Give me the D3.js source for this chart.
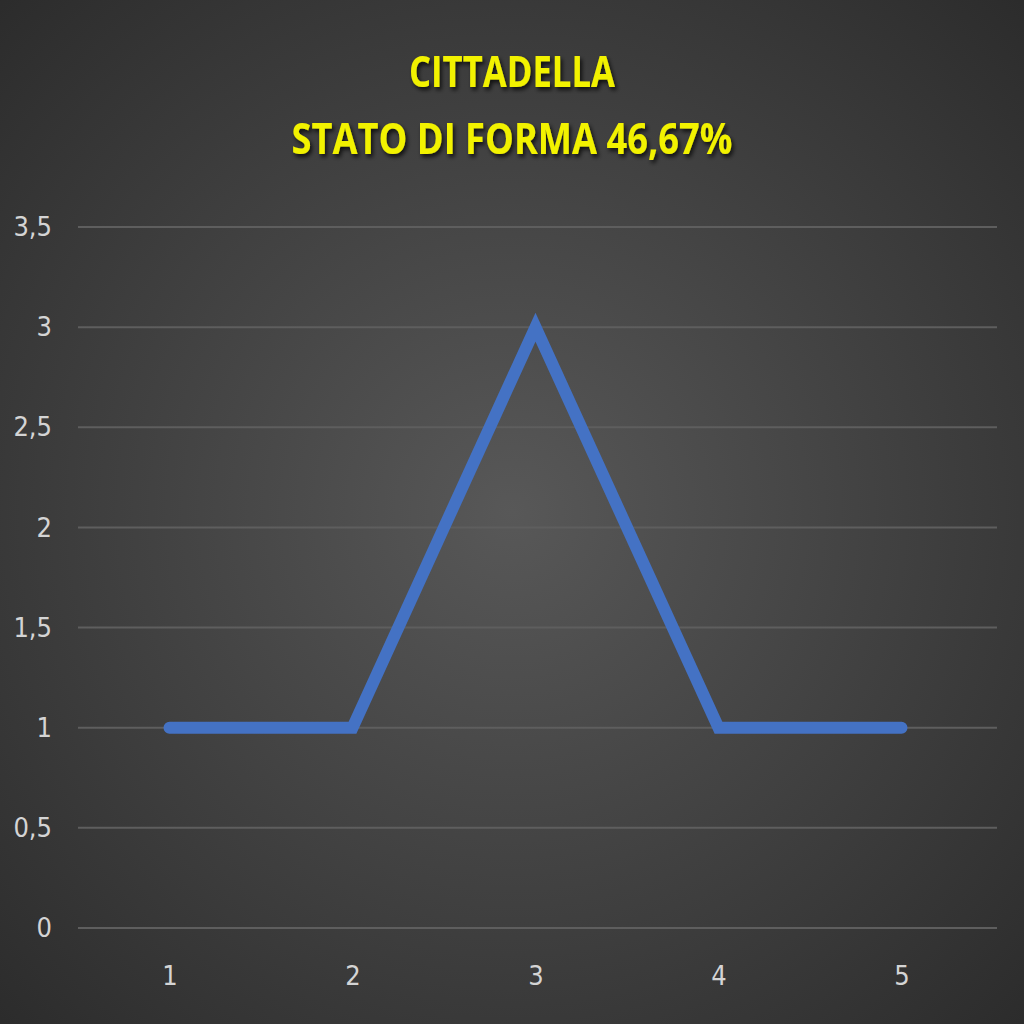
<!DOCTYPE html>
<html>
<head>
<meta charset="utf-8">
<script src="https://cdn.jsdelivr.net/npm/d3@7"></script>
<style>
  html, body { margin: 0; padding: 0; background: #333; }
  svg { display: block; }
</style>
</head>
<body>
<svg id="drawing_region"></svg>
<script>
// dati
const titleLines = ['CITTADELLA', 'STATO DI FORMA 46,67%']
const giornate = ['1', '2', '3', '4', '5']
const punti = [1, 1, 3, 1, 1]
const yTicks = [0, 0.5, 1, 1.5, 2, 2.5, 3, 3.5]

const width = 1024, height = 1024
const margin = {top: 227, right: 30, bottom: 96, left: 78}
const labelFont = '"DejaVu Sans Condensed", "Open Sans", sans-serif'

const svg = d3.select('#drawing_region')
  .attr('width', width)
  .attr('height', height)

// sfondo con gradiente radiale
const defs = svg.append('defs')
const grad = defs.append('radialGradient')
  .attr('id', 'bg')
  .attr('cx', '50%').attr('cy', '50%').attr('r', '72%')
grad.append('stop').attr('offset', '0%').attr('stop-color', '#585858')
grad.append('stop').attr('offset', '100%').attr('stop-color', '#2b2b2b')

const shadow = defs.append('filter').attr('id', 'shadow')
  .attr('x', '-10%').attr('y', '-30%').attr('width', '120%').attr('height', '160%')
shadow.append('feDropShadow')
  .attr('dx', 2).attr('dy', 3).attr('stdDeviation', 2)
  .attr('flood-color', '#000').attr('flood-opacity', 0.75)

svg.append('rect')
  .attr('width', width).attr('height', height)
  .attr('fill', 'url(#bg)')

const innerW = 993 - margin.left
const innerH = 928 - margin.top

const chart = svg.append('g')
  .attr('transform', `translate(${margin.left},${margin.top})`)

const x = d3.scalePoint().domain(giornate).range([0, innerW]).padding(0.5)
const y = d3.scaleLinear().domain([0, 3.5]).range([innerH, 0])

const fmt = d => String(d).replace('.', ',')

// griglia orizzontale
chart.append('g')
  .selectAll('line').data(yTicks).enter()
  .append('line')
  .attr('x1', 0).attr('x2', innerW + 4)
  .attr('y1', d => y(d)).attr('y2', d => y(d))
  .attr('stroke', '#5e5e5e')
  .attr('stroke-width', 2)

// asse y
const yAxis = d3.axisLeft(y).tickValues(yTicks).tickFormat(fmt).tickSize(0).tickPadding(26)
chart.append('g').call(yAxis)
  .call(g => g.select('.domain').remove())
  .selectAll('text')
  .attr('fill', '#d4d4d4')
  .attr('font-family', labelFont)
  .attr('font-size', 27)

// asse x
const xAxis = d3.axisBottom(x).tickSize(0).tickPadding(38)
chart.append('g')
  .attr('transform', `translate(0,${innerH})`)
  .call(xAxis)
  .call(g => g.select('.domain').remove())
  .selectAll('text')
  .attr('fill', '#d4d4d4')
  .attr('font-family', labelFont)
  .attr('font-size', 27)

// linea
const line = d3.line()
  .x((d, i) => x(giornate[i]))
  .y(d => y(d))

chart.append('path')
  .datum(punti)
  .attr('d', line)
  .attr('fill', 'none')
  .attr('stroke', '#4472c4')
  .attr('stroke-width', 12)
  .attr('stroke-linejoin', 'miter')
  .attr('stroke-linecap', 'round')

// titolo
const titleWidths = [206, 441]
svg.append('g')
  .attr('filter', 'url(#shadow)')
  .selectAll('text').data(titleLines).enter()
  .append('text')
  .attr('x', 512)
  .attr('y', (d, i) => 87 + i * 67)
  .attr('text-anchor', 'middle')
  .attr('textLength', (d, i) => titleWidths[i])
  .attr('lengthAdjust', 'spacingAndGlyphs')
  .attr('fill', '#f2f200')
  .attr('font-family', '"Open Sans", sans-serif')
  .attr('font-weight', 'bold')
  .attr('font-size', 43)
  .text(d => d)
</script>
</body>
</html>
